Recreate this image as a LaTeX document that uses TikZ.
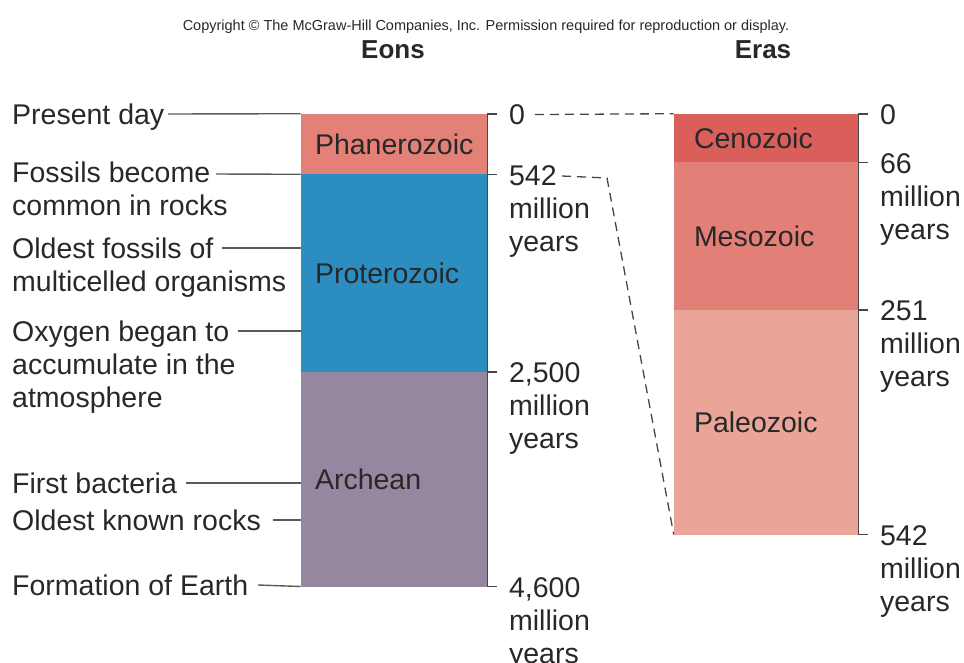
\documentclass[tikz,border=0pt]{standalone}
\usepackage{fontspec}
\setmainfont{Liberation Sans}
\usetikzlibrary{positioning}
\definecolor{txt}{RGB}{40,40,40}
\definecolor{axiscol}{RGB}{70,70,70}
\definecolor{tiecol}{RGB}{90,90,90}
\definecolor{phancol}{RGB}{227,128,120}
\definecolor{protcol}{RGB}{44,142,192}
\definecolor{archcol}{RGB}{150,135,160}
\definecolor{cenocol}{RGB}{218,94,90}
\definecolor{mesocol}{RGB}{226,128,120}
\definecolor{paleocol}{RGB}{234,165,152}

\begin{document}
\begin{tikzpicture}[x=1pt, y=-1pt, node distance=0pt]
    \tikzset{eon/.style = {rectangle, minimum width=186pt, text width=158pt, inner xsep=14pt, inner ysep=0pt, line width=0.6pt, align=left, text=txt, font=\fontsize{28.5}{33}\selectfont}}
    \tikzset{era/.style = {eon, minimum width=184pt, text width=144pt, inner xsep=20pt}}
    \tikzset{edge/.style = {draw=axiscol, line width=1.6pt}}
    \tikzset{tie/.style = {draw=tiecol, line width=1.4pt}}
    \tikzset{link/.style = {draw=axiscol, line width=1.3pt, dash pattern=on 9pt off 6pt}}
    \tikzset{age/.style = {anchor=north west, inner sep=0pt, align=left, xshift=11pt, yshift=10pt, text=txt, font=\fontsize{28.5}{33}\selectfont}}
    \tikzset{event/.style = {anchor=north west, inner sep=0pt, align=left, text=txt, font=\fontsize{28.5}{33}\selectfont}}
    \tikzset{head/.style = {text=txt, font=\fontsize{26}{30}\selectfont\bfseries}}
    \useasboundingbox (0,0) rectangle (964,662);

    \node[text=txt, font=\fontsize{14.5}{16}\selectfont] (copy) at (486,27) {Copyright \textcopyright{} The McGraw-Hill Companies, Inc. Permission required for reproduction or display.};
    \node[head] (eons) at (393,50) {Eons};
    \node[head] (eras) at (763,50) {Eras};

    \node[eon, fill=phancol, draw=phancol, minimum height=60pt] (phan) at (394,144) {Phanerozoic};
    \node[eon, fill=protcol, draw=protcol, minimum height=197pt, below=of phan] (prot) {Proterozoic};
    \node[eon, fill=archcol, draw=archcol, minimum height=214pt, below=of prot] (arch) {Archean};
    \draw[edge] (phan.north east) -- (arch.south east);
    \draw[edge] (phan.north east) -- ++(10,0) node[age] (e0) {0};
    \draw[edge] (prot.north east) -- ++(10,0) node[age] (e542) {542\\million\\years};
    \draw[edge] (arch.north east) -- ++(10,0) node[age] (e2500) {2,500\\million\\years};
    \draw[edge] (arch.south east) -- ++(10,0) node[age] (e4600) {4,600\\million\\years};

    \node[era, fill=cenocol, draw=cenocol, minimum height=48pt] (ceno) at (766,138) {Cenozoic};
    \node[era, fill=mesocol, draw=mesocol, minimum height=147pt, below=of ceno] (meso) {Mesozoic};
    \node[era, fill=paleocol, draw=paleocol, minimum height=224pt, below=of meso] (paleo) {Paleozoic};
    \draw[edge] (ceno.north east) -- (paleo.south east);
    \draw[edge] (ceno.north east) -- ++(10,0) node[age] (r0) {0};
    \draw[edge] (meso.north east) -- ++(10,0) node[age] (r66) {66\\million\\years};
    \draw[edge] (paleo.north east) -- ++(10,0) node[age] (r251) {251\\million\\years};
    \draw[edge] (paleo.south east) -- ++(10,0) node[age] (r542) {542\\million\\years};

    \coordinate (d542) at (562,176);
    \coordinate (bend) at (607,178);
    \draw[link, shorten <=9pt] (e0.east) -- (ceno.north west);
    \draw[link] (d542) -- (bend) -- (paleo.south west);

    \node[event] (present) at (12,104) {Present day};
    \node[event] (fossils) at (12,162) {Fossils become\\common in rocks};
    \node[event] (multi) at (12,238) {Oldest fossils of\\multicelled organisms};
    \node[event] (oxygen) at (12,321) {Oxygen began to\\accumulate in the\\atmosphere};
    \node[event] (bacteria) at (12,473) {First bacteria};
    \node[event] (rocks) at (12,510) {Oldest known rocks};
    \node[event] (earth) at (12,575) {Formation of Earth};

    \coordinate (tpres) at (168,114);
    \coordinate (tfos) at (216,174);
    \coordinate (tmulti) at (222,248);
    \coordinate (toxy) at (238,331);
    \coordinate (tbact) at (186,483);
    \coordinate (trocks) at (273,520);
    \coordinate (tearth) at (258,585);
    \draw[tie] (tpres) -- (phan.north west);
    \draw[tie] (tfos) -- (prot.north west);
    \draw[tie] (tmulti) -- (tmulti -| prot.west);
    \draw[tie] (toxy) -- (toxy -| prot.west);
    \draw[tie] (tbact) -- (tbact -| arch.west);
    \draw[tie] (trocks) -- (trocks -| arch.west);
    \draw[tie] (tearth) -- (arch.south west);
\end{tikzpicture}
\end{document}
